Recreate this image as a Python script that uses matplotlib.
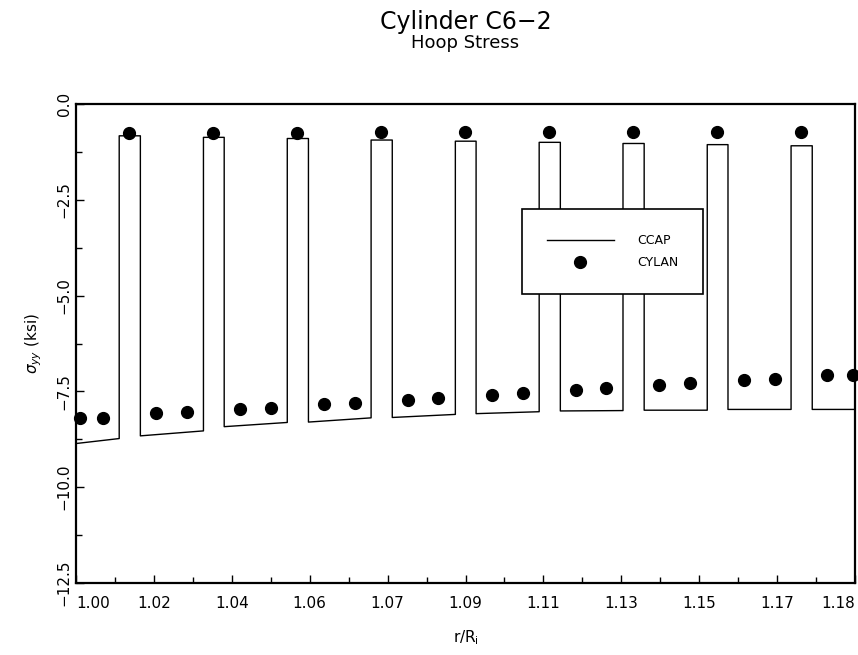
import numpy as np
import matplotlib.pyplot as plt
from matplotlib.ticker import FixedLocator

# CCAP hoop stress: sloped bottom segments joined by narrow spikes
seg_x0 = [1.0, 1.0152, 1.0350, 1.0549, 1.0747, 1.0945, 1.1144, 1.1342, 1.1540, 1.1739]
seg_x1 = [1.0102, 1.0301, 1.0499, 1.0697, 1.0896, 1.1094, 1.1292, 1.1491, 1.1689, 1.184]
seg_y0 = [-8.86, -8.66, -8.42, -8.30, -8.18, -8.08, -8.01, -7.99, -7.97, -7.97]
seg_y1 = [-8.73, -8.53, -8.31, -8.19, -8.10, -8.03, -8.00, -7.99, -7.97, -7.97]
spike_top = [-0.83, -0.87, -0.90, -0.94, -0.97, -1.00, -1.03, -1.06, -1.09]

# CYLAN points
cylan_x = [1.0010, 1.0064, 1.0125, 1.0188, 1.0261, 1.0323, 1.0387, 1.0460, 1.0522,
           1.0585, 1.0658, 1.0720, 1.0783, 1.0856, 1.0919, 1.0982, 1.1055, 1.1117,
           1.1180, 1.1253, 1.1315, 1.1378, 1.1451, 1.1514, 1.1577, 1.1650, 1.1712,
           1.1775, 1.1835]
cylan_y = [-8.19, -8.19, -0.76, -8.07, -8.04, -0.76, -7.97, -7.93, -0.76,
           -7.84, -7.79, -0.74, -7.72, -7.68, -0.74, -7.60, -7.55, -0.74,
           -7.47, -7.41, -0.74, -7.34, -7.29, -0.74, -7.21, -7.17, -0.74,
           -7.08, -7.06]

xtick_vals = [1.0 + 0.0184 * k for k in range(11)]
xtick_labels = ['1.00', '1.02', '1.04', '1.06', '1.07', '1.09', '1.11', '1.13', '1.15', '1.17', '1.18']
ytick_vals = [0.0, -2.5, -5.0, -7.5, -10.0, -12.5]
ytick_labels = ['0.0', '\u22122.5', '\u22125.0', '\u22127.5', '\u221210.0', '\u221212.5']

xs, ys = [], []
for i in range(len(seg_x0)):
    xs += [seg_x0[i], seg_x1[i]]
    ys += [seg_y0[i], seg_y1[i]]
    if i < len(spike_top):
        xs += [seg_x1[i], seg_x0[i + 1]]
        ys += [spike_top[i], spike_top[i]]

fig = plt.figure(figsize=(8.58, 6.55), dpi=100)
ax = fig.add_axes([0.0886, 0.1099, 0.9079, 0.7313])

ax.plot(xs, ys, color='black', lw=1.0, label='CCAP')
ax.plot(cylan_x, cylan_y, 'o', color='black', ms=8.5, ls='none', label='CYLAN', clip_on=False)

ax.set_xlim(1.0, 1.184)
ax.set_ylim(-12.5, 0.0)

ax.set_xticks(xtick_vals)
ax.set_xticklabels(xtick_labels, fontsize=11)
tl = ax.get_xticklabels()
tl[0].set_ha('left')
tl[-1].set_ha('right')
ax.xaxis.set_minor_locator(FixedLocator([v + 0.0092 for v in xtick_vals[:-1]]))

ax.set_yticks(ytick_vals)
ax.set_yticklabels(ytick_labels, fontsize=11, rotation=90, va='center')
ax.yaxis.set_minor_locator(FixedLocator(np.arange(-11.25, 0, 2.5)))

ax.tick_params(which='both', direction='in', top=False, right=False, width=1.0)
ax.tick_params(which='major', length=6)
ax.tick_params(which='minor', length=4)
ax.tick_params(axis='x', pad=9)
ax.tick_params(axis='y', pad=3)

for s in ax.spines.values():
    s.set_linewidth(1.6)

ax.set_xlabel(r'r/R$_{\rm i}$', fontsize=11, labelpad=13)
ax.set_ylabel(r'$\sigma_{yy}$ (ksi)', fontsize=11, labelpad=9)

fig.text(0.5425, 0.967, 'Cylinder C6\u22122', ha='center', va='center', fontsize=17)
fig.text(0.5425, 0.934, 'Hoop Stress', ha='center', va='center', fontsize=13)

leg = ax.legend(loc='upper left', bbox_to_anchor=(0.572, 0.780), borderaxespad=0,
                fontsize=9, borderpad=2.0, handlelength=5.4, handletextpad=1.85,
                labelspacing=0.7, numpoints=1, fancybox=False, framealpha=1,
                edgecolor='black')
leg.get_frame().set_linewidth(1.2)

fig.savefig('out.png', dpi=100)
